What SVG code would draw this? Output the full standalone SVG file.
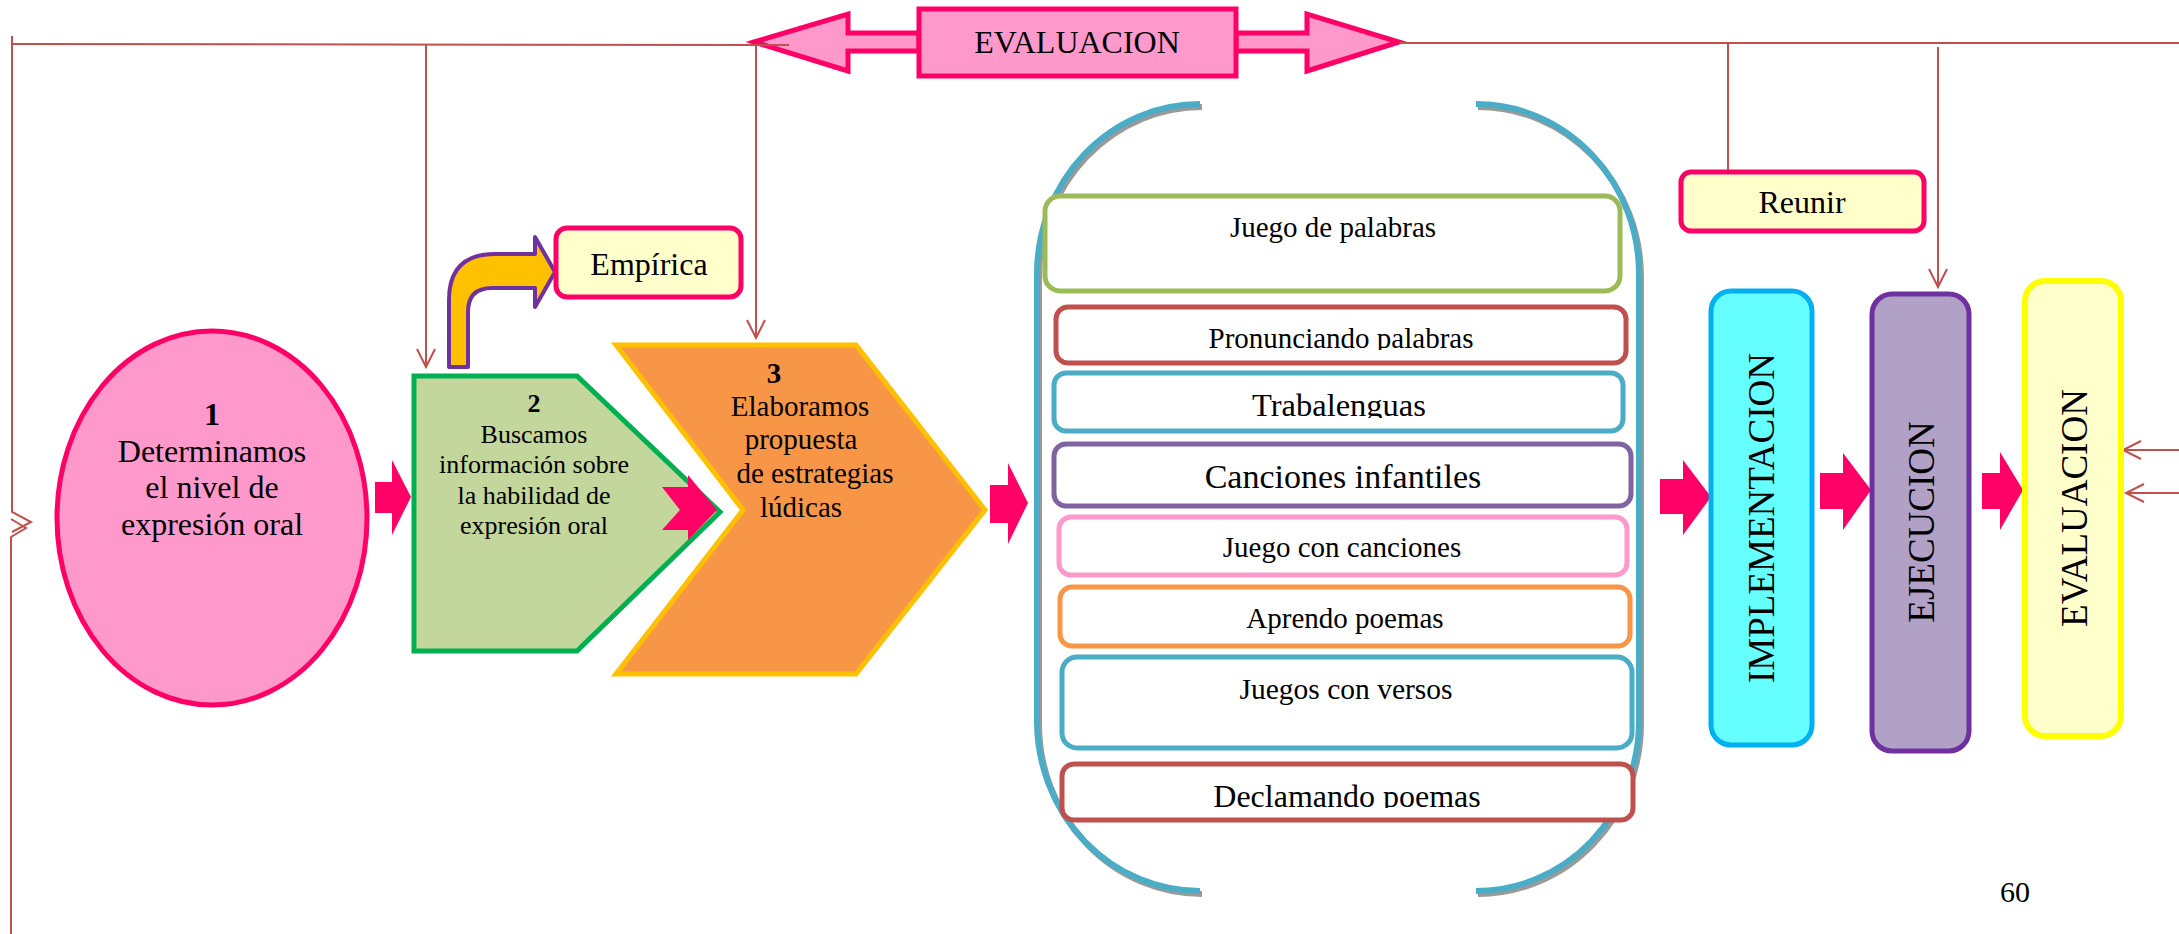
<svg xmlns="http://www.w3.org/2000/svg" width="2179" height="934" viewBox="0 0 2179 934">
<style>
text{font-family:"Liberation Serif","Times New Roman",serif;fill:#000}
.c{text-anchor:middle}
.conn{stroke:#C0504D;stroke-width:2;fill:none}
.arr{stroke:#C0504D;stroke-width:2;fill:none;marker-end:url(#ah)}
.blk{fill:#FF0066}
.ib{fill:#fff;stroke-width:5}
.lbl{fill:#FFFFCC;stroke:#FF0066;stroke-width:5}
.vt{font-size:37px;text-anchor:middle}
</style>
<defs>
<marker id="ah" markerWidth="22" markerHeight="22" refX="19" refY="10" orient="auto" markerUnits="userSpaceOnUse" overflow="visible">
<path d="M1,1 L19,10 L1,19" fill="none" stroke="#C0504D" stroke-width="2"/>
</marker>
<clipPath id="clipPron"><rect x="1050" y="300" width="590" height="50"/></clipPath>
<clipPath id="clipTrab"><rect x="1050" y="370" width="590" height="48"/></clipPath>
<clipPath id="clipDecl"><rect x="1050" y="760" width="590" height="48"/></clipPath>
</defs>

<g id="banner-evaluacion">
<polygon points="754,42 848,14 848,33 919,33 919,51 848,51 848,71" fill="#FF99CC" stroke="#FF0066" stroke-width="5" stroke-linejoin="miter"/>
<polygon points="1236,33 1307,33 1307,14 1399,42 1307,71 1307,51 1236,51" fill="#FF99CC" stroke="#FF0066" stroke-width="5"/>
<rect x="919" y="9" width="317" height="67" fill="#FF99CC" stroke="#FF0066" stroke-width="5"/>
<text class="c" x="1077" y="53" font-size="32">EVALUACION</text>
</g>

<g id="connectors">
<line class="conn" x1="13" y1="44" x2="789" y2="45"/>
<line class="conn" x1="1399" y1="43" x2="2179" y2="43"/>
<path class="conn" d="M12,36 L12,512 L31,522 L12,532"/>
<path class="conn" d="M11,519 L26,528 L11,537 L11,934"/>
<line class="arr" x1="426" y1="44" x2="426" y2="367"/>
<line class="arr" x1="756" y1="45" x2="756" y2="338"/>
<line class="conn" x1="1728" y1="43" x2="1728" y2="171"/>
<line class="arr" x1="1938" y1="47" x2="1938" y2="287"/>
<line class="arr" x1="2179" y1="450" x2="2123" y2="450"/>
<line class="arr" x1="2179" y1="493" x2="2126" y2="493"/>
</g>

<g id="node-1">
<ellipse cx="212" cy="518" rx="155" ry="187" fill="#FF99CC" stroke="#FF0066" stroke-width="5"/>
<text class="c" x="212" y="425" font-size="32" font-weight="bold">1</text>
<text class="c" x="212" y="462" font-size="32">Determinamos</text>
<text class="c" x="212" y="498" font-size="32">el nivel de</text>
<text class="c" x="212" y="535" font-size="32">expresión oral</text>
</g>

<g id="arrow-1-2">
<polygon class="blk" points="375,482 392,482 392,460 411,497 392,535 392,513 375,513"/>
</g>

<g id="empirica-arrow">
<path d="M449,367 L449,300 Q449,254 495,254 L535,254 L535,237 L555,272 L535,307 L535,288 L492,288 Q468,288 468,312 L468,367 Z" fill="#FFC000" stroke="#7030A0" stroke-width="4" stroke-linejoin="round"/>
</g>

<g id="node-empirica">
<rect class="lbl" x="556" y="228" width="185" height="69" rx="11"/>
<text class="c" x="649" y="275" font-size="32">Empírica</text>
</g>

<g id="node-2">
<polygon points="414,376 577,376 720,512 577,651 414,651" fill="#C3D69B" stroke="#00B050" stroke-width="5"/>
<text class="c" x="534" y="412" font-size="26" font-weight="bold">2</text>
<text class="c" x="534" y="443" font-size="26">Buscamos</text>
<text class="c" x="534" y="473" font-size="26">información sobre</text>
<text class="c" x="534" y="504" font-size="26">la habilidad de</text>
<text class="c" x="534" y="534" font-size="26">expresión oral</text>
</g>

<g id="node-3">
<polygon points="616,345 856,345 985,510 856,674 616,674 743,510" fill="#F79646" stroke="#FFC000" stroke-width="5"/>
<text class="c" x="774" y="383" font-size="29" font-weight="bold">3</text>
<text class="c" x="800" y="416" font-size="29">Elaboramos</text>
<text class="c" x="801" y="449" font-size="29">propuesta</text>
<text class="c" x="815" y="483" font-size="29">de estrategias</text>
<text class="c" x="801" y="517" font-size="29">lúdicas</text>
</g>

<g id="arrow-2-3">
<polygon class="blk" points="662,487 688,487 688,475 717,510 688,540 688,530 662,530 680,510"/>
</g>

<g id="arrow-3-list">
<polygon class="blk" points="990,485 1008,485 1008,463 1028,503 1008,544 1008,523 990,523"/>
</g>

<g id="node-list">
<g fill="none" stroke-width="6">
<path d="M1200,104 A163,170 0 0 0 1037,274 L1037,721 A163,170 0 0 0 1200,891" stroke="#9A9A9A" transform="translate(2,3)"/>
<path d="M1476,104 A163,170 0 0 1 1639,274 L1639,721 A163,170 0 0 1 1476,891" stroke="#9A9A9A" transform="translate(2,3)"/>
<path d="M1200,104 A163,170 0 0 0 1037,274 L1037,721 A163,170 0 0 0 1200,891" stroke="#4BACC6"/>
<path d="M1476,104 A163,170 0 0 1 1639,274 L1639,721 A163,170 0 0 1 1476,891" stroke="#4BACC6"/>
</g>
<rect class="ib" x="1045" y="196" width="575" height="95" rx="15" stroke="#9BBB59"/>
<text class="c" x="1333" y="237" font-size="29">Juego de palabras</text>
<rect class="ib" x="1056" y="307" width="570" height="56" rx="12" stroke="#C0504D"/>
<text class="c" x="1341" y="348" font-size="29" clip-path="url(#clipPron)">Pronunciando palabras</text>
<rect class="ib" x="1054" y="373" width="569" height="58" rx="12" stroke="#4BACC6"/>
<text class="c" x="1339" y="416" font-size="32.5" clip-path="url(#clipTrab)">Trabalenguas</text>
<rect class="ib" x="1054" y="444" width="577" height="62" rx="12" stroke="#8064A2"/>
<text class="c" x="1343" y="488" font-size="34">Canciones infantiles</text>
<rect class="ib" x="1059" y="517" width="568" height="58" rx="12" stroke="#FF99CC"/>
<text class="c" x="1342" y="557" font-size="29">Juego con canciones</text>
<rect class="ib" x="1060" y="587" width="570" height="59" rx="12" stroke="#F79646"/>
<text class="c" x="1345" y="628" font-size="29">Aprendo poemas</text>
<rect class="ib" x="1062" y="657" width="570" height="91" rx="15" stroke="#4BACC6"/>
<text class="c" x="1346" y="699" font-size="29.5">Juegos con versos</text>
<rect class="ib" x="1062" y="764" width="571" height="56" rx="12" stroke="#C0504D"/>
<text class="c" x="1347" y="807" font-size="32" clip-path="url(#clipDecl)">Declamando poemas</text>
</g>

<g id="arrow-list-impl">
<polygon class="blk" points="1660,479 1683,479 1683,460 1711,497 1683,535 1683,514 1660,514"/>
</g>

<g id="node-reunir">
<rect class="lbl" x="1681" y="172" width="243" height="59" rx="10"/>
<text class="c" x="1802" y="213" font-size="32">Reunir</text>
</g>

<g id="node-implementacion">
<rect x="1711" y="291" width="101" height="454" rx="20" fill="#66FFFF" stroke="#00B0F0" stroke-width="5"/>
<text class="vt" transform="translate(1761,518) rotate(-90)" x="0" y="13">IMPLEMENTACION</text>
</g>

<g id="arrow-impl-ejec">
<polygon class="blk" points="1820,473 1843,473 1843,453 1871,490 1843,530 1843,509 1820,509"/>
</g>

<g id="node-ejecucion">
<rect x="1872" y="294" width="97" height="457" rx="20" fill="#B2A1C7" stroke="#7030A0" stroke-width="5"/>
<text class="vt" transform="translate(1921,522) rotate(-90)" x="0" y="13">EJECUCION</text>
</g>

<g id="arrow-ejec-eval">
<polygon class="blk" points="1982,473 2000,473 2000,452 2023,490 2000,530 2000,509 1982,509"/>
</g>

<g id="node-evaluacion">
<rect x="2025" y="281" width="96" height="455" rx="20" fill="#FFFFCC" stroke="#FFFF00" stroke-width="6"/>
<text class="vt" transform="translate(2074,508) rotate(-90)" x="0" y="13">EVALUACION</text>
</g>

<text class="c" x="2015" y="902" font-size="30">60</text>
</svg>
